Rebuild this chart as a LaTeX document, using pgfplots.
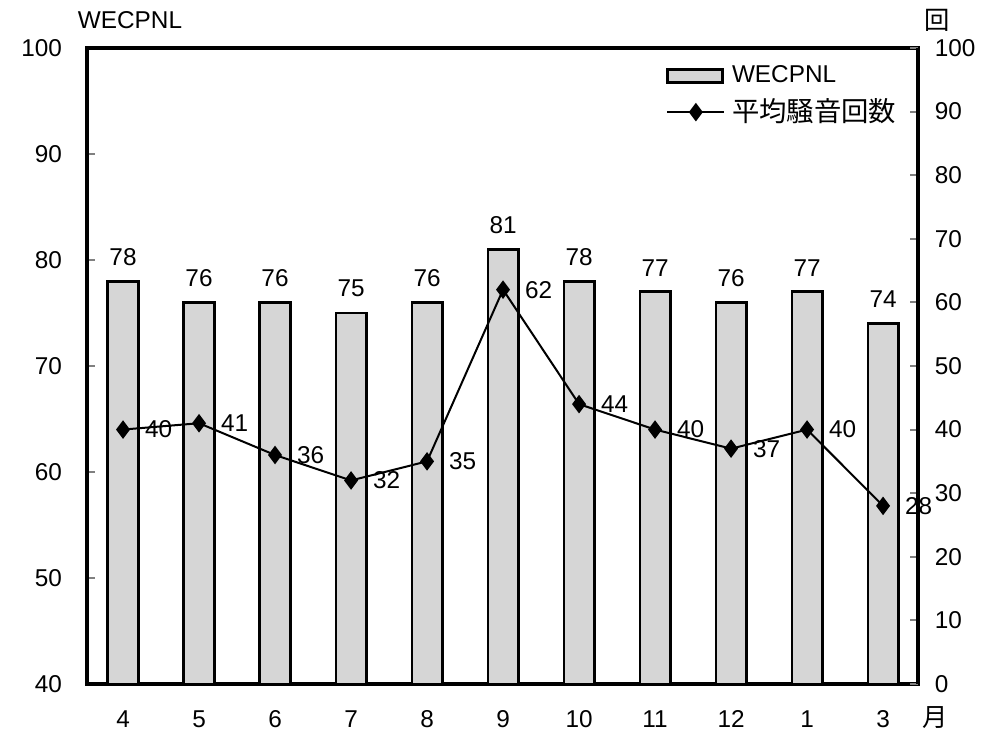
\documentclass[border=0pt]{standalone}
\usepackage{pgfplots}
\pgfplotsset{compat=1.18}
\usepackage{fontspec}
\setmainfont{Liberation Sans}
\newfontfamily\jp{Noto Sans CJK JP}
\newcommand\f{\fontsize{7.3}{8.6}\selectfont}
\newcommand\fj{\fontsize{8.2}{9}\selectfont\jp}
\definecolor{barfill}{gray}{0.84}
\begin{document}
\begin{tikzpicture}
\pgfplotsset{common/.style={
  scale only axis, width=249.3pt, height=190.8pt,
  xmin=-0.474, xmax=10.46, clip=false,
  /pgf/number format/assume math mode=true,
  tick label style={font=\f},
  tick align=inside, major tick length=2.5pt,
  every tick/.style={gray, line width=0.6pt},
  axis line style={line width=1.1pt},
}}
\begin{axis}[common, name=main,
  ymin=40, ymax=100, ytick={40,50,...,100}, ytick pos=left,
  xtick={0,...,10}, xticklabels={4,5,6,7,8,9,10,11,12,1,3},
  x tick style={draw=none},
  xticklabel style={yshift=-4.5pt},
  yticklabel style={xshift=-4pt},
]
\addplot[ybar, bar width=0.4, fill=barfill, draw=black, line width=0.8pt,
  nodes near coords, nodes near coords style={font=\f, yshift=1pt}]
  coordinates {(0,78) (1,76) (2,76) (3,75) (4,76) (5,81) (6,78) (7,77) (8,76) (9,77) (10,74)};
\end{axis}
\begin{axis}[common,
  ymin=0, ymax=100, ytick={0,10,...,100},
  axis y line*=right, axis x line=none,
  yticklabel style={xshift=1.5pt},
  legend style={draw=none, fill=none, font=\f, at={(0.684,0.995)}, anchor=north west,
    row sep=-0.7pt, /tikz/every even column/.append style={column sep=2pt}},
  legend cell align=left,
]
\addlegendimage{legend image code/.code={\draw[fill=barfill, line width=0.8pt] (0pt,-1.9pt) rectangle (16.5pt,1.9pt);}}
\addlegendentry{WECPNL}
\addplot[black, line width=0.6pt, mark=diamond*, mark size=2.3pt,
  nodes near coords, nodes near coords style={font=\f, anchor=west, xshift=3pt}]
  coordinates {(0,40) (1,41) (2,36) (3,32) (4,35) (5,62) (6,44) (7,40) (8,37) (9,40) (10,28)};
\addlegendentry{{\fj 平均騒音回数}}
\end{axis}
\node[font=\f] at ([xshift=12.9pt,yshift=8.4pt]main.north west) {WECPNL};
\node[font=\fontsize{7.6}{9}\selectfont\jp] at ([xshift=5.7pt,yshift=8.4pt]main.north east) {回};
\node[font=\fontsize{7.6}{9}\selectfont\jp] at ([xshift=5.1pt,yshift=-10.2pt]main.south east) {月};
\pgfresetboundingbox
\path[use as bounding box] ([xshift=-26.1pt,yshift=-14.7pt]main.south west) rectangle ([xshift=20.4pt,yshift=14.4pt]main.north east);
\end{tikzpicture}
\end{document}
